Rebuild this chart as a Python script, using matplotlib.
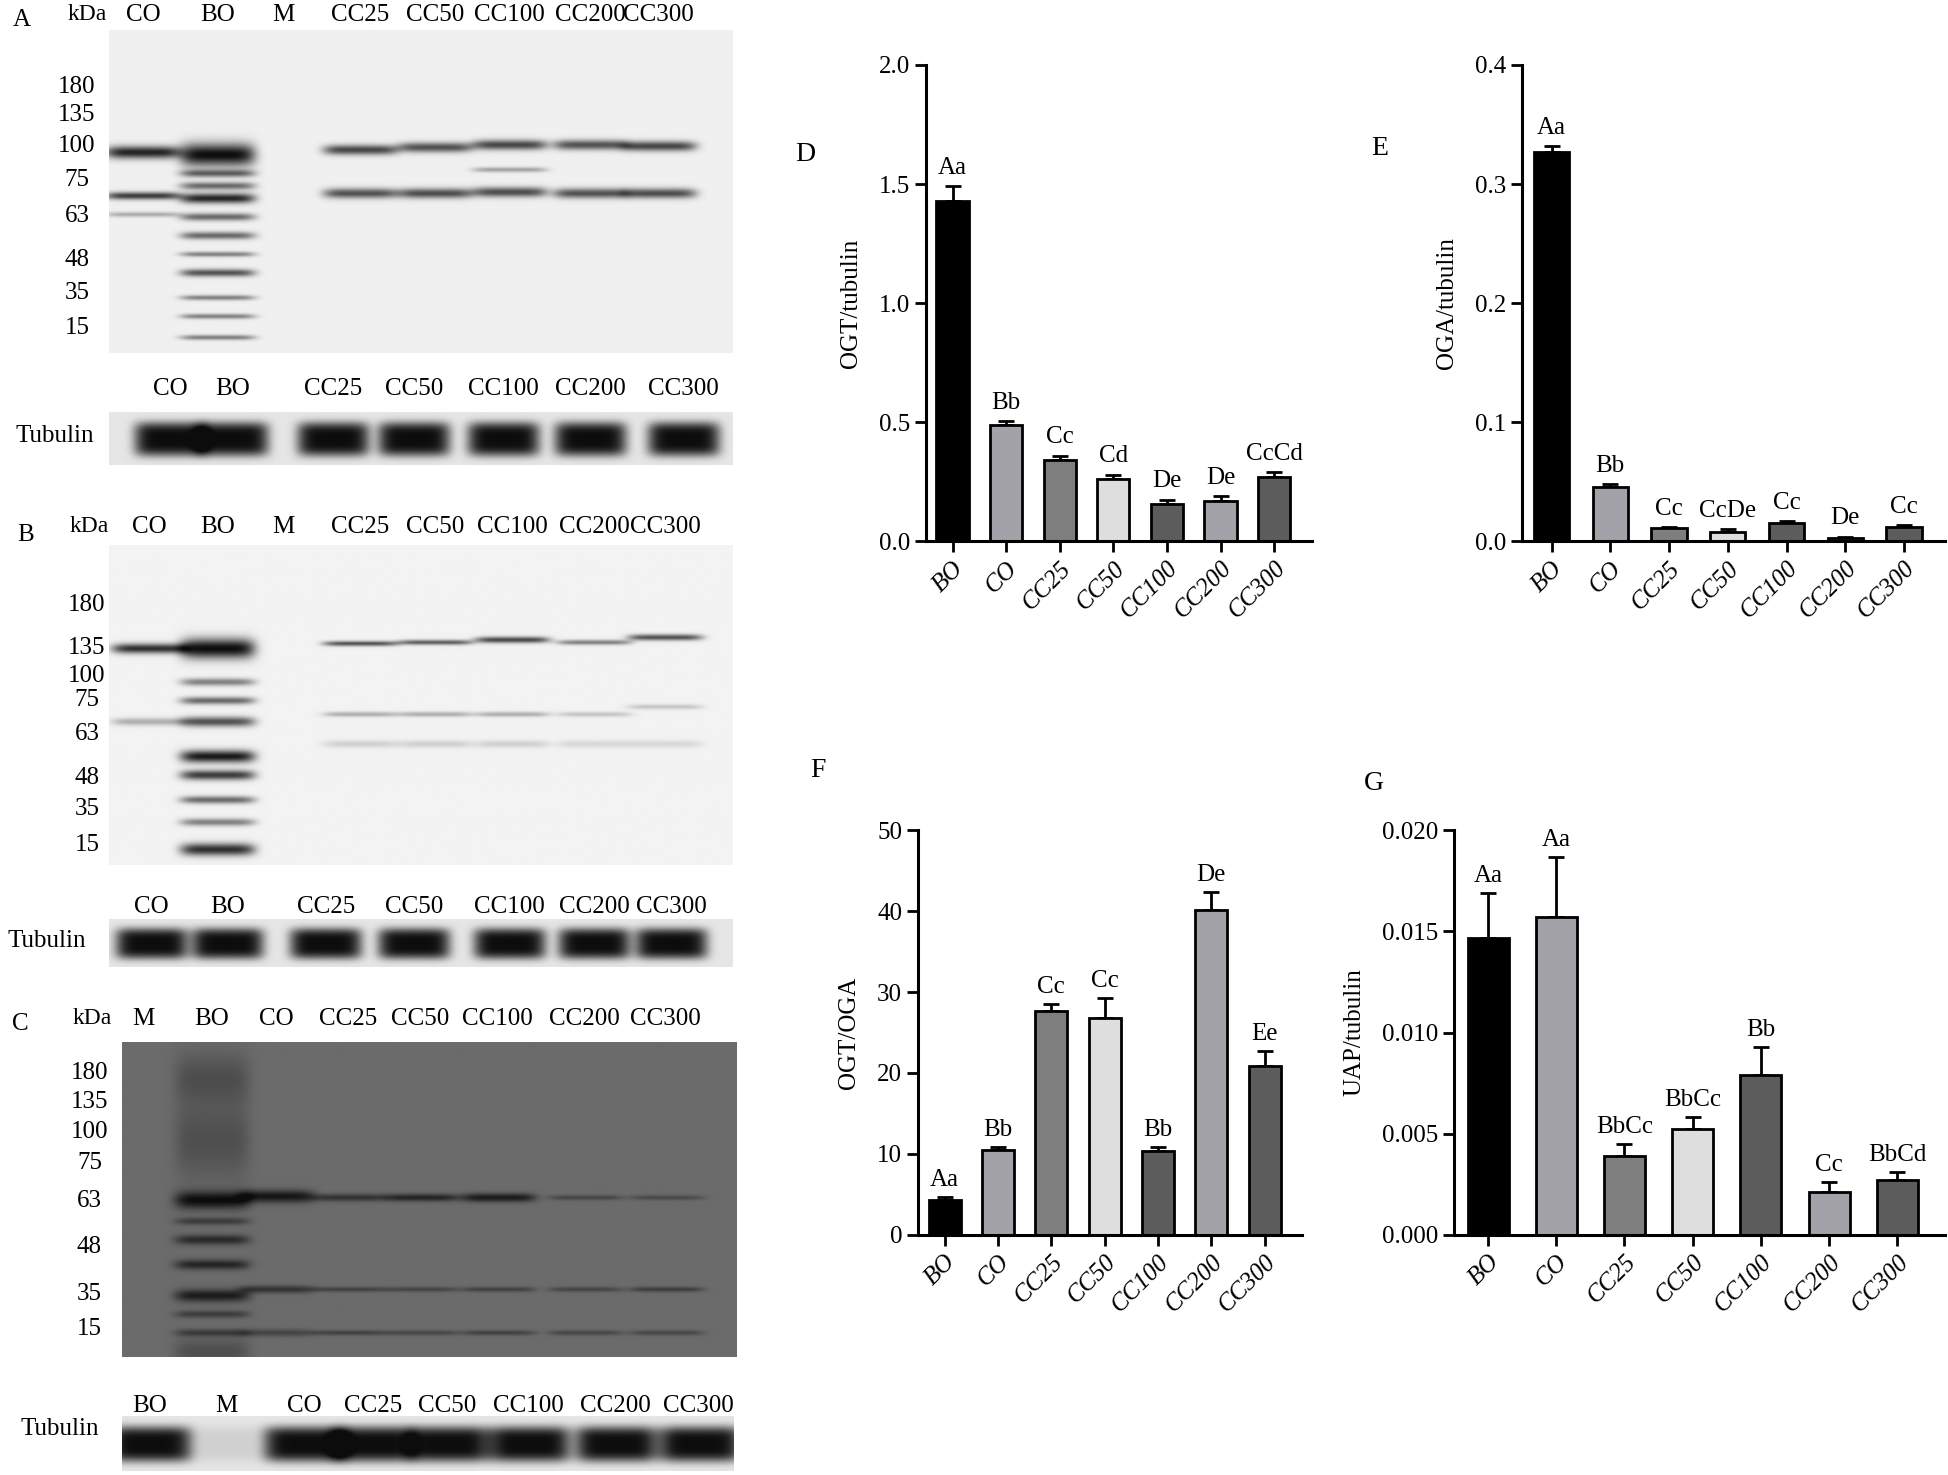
import numpy as np
import matplotlib
matplotlib.use("Agg")
import matplotlib.pyplot as plt

plt.rcParams["font.family"] = "Liberation Serif"

groups = ["BO", "CO", "CC25", "CC50", "CC100", "CC200", "CC300"]
bar_colors = ["#000000", "#a2a2a8", "#7e7e7e", "#dedede", "#5c5c5c", "#a2a2a8", "#5c5c5c"]

ogt = [1.43, 0.49, 0.34, 0.26, 0.155, 0.17, 0.27]
ogt_err = [0.06, 0.015, 0.02, 0.02, 0.02, 0.02, 0.02]
ogt_lab = ["Aa", "Bb", "Cc", "Cd", "De", "De", "CcCd"]

oga = [0.327, 0.046, 0.011, 0.008, 0.015, 0.003, 0.012]
oga_err = [0.005, 0.002, 0.001, 0.002, 0.002, 0.001, 0.002]
oga_lab = ["Aa", "Bb", "Cc", "CcDe", "Cc", "De", "Cc"]

ratio = [4.3, 10.5, 27.6, 26.8, 10.4, 40.1, 20.8]
ratio_err = [0.4, 0.3, 0.9, 2.5, 0.4, 2.3, 1.9]
ratio_lab = ["Aa", "Bb", "Cc", "Cc", "Bb", "De", "Ee"]

uap = [0.0147, 0.0157, 0.0039, 0.0052, 0.0079, 0.0021, 0.0027]
uap_err = [0.0022, 0.003, 0.0006, 0.0006, 0.0014, 0.0005, 0.0004]
uap_lab = ["Aa", "Aa", "BbCc", "BbCc", "Bb", "Cc", "BbCd"]

# blot lanes and bands (pixel rows in the reference frame, relative intensity, width)
kda = ["180", "135", "100", "75", "63", "48", "35", "15"]
lanesA = ["CO", "BO", "M", "CC25", "CC50", "CC100", "CC200", "CC300"]
lanesA_x = [115, 175, 228, 290, 350, 410, 475, 530]
bandsA = [[(123, .9, 5), (158, .8, 3), (173, .3, 2)],
          [(125, 1, 9), (140, .6, 3), (150, .6, 3), (160, .9, 4), (175, .6, 3), (190, .6, 3),
           (205, .5, 2), (220, .7, 3), (240, .5, 2), (255, .5, 2), (272, .5, 2)],
          [], [(121, .75, 4), (156, .7, 4)], [(119, .7, 4), (156, .72, 4)],
          [(117, .75, 4), (137, .35, 2), (155, .72, 4)], [(117, .7, 4), (156, .7, 4)],
          [(118, .75, 4), (156, .72, 4)]]
kdaA_y = [70, 93, 118, 145, 174, 210, 236, 265]
tubA = ["CO", "BO", "CC25", "CC50", "CC100", "CC200", "CC300"]
tubA_x = [137, 187, 268, 333, 405, 475, 550]

lanesB = ["CO", "BO", "M", "CC25", "CC50", "CC100", "CC200", "CC300"]
lanesB_x = [120, 175, 228, 290, 350, 412, 478, 535]
bandsB = [[(523, .85, 4), (582, .3, 3)],
          [(523, 1, 8), (550, .5, 3), (565, .6, 3), (582, .7, 4), (610, .95, 5), (625, .8, 4),
           (645, .6, 3), (663, .5, 3), (685, .85, 5)],
          [], [(519, .7, 2), (576, .3, 2), (600, .15, 3)], [(518, .65, 2), (576, .3, 2), (600, .15, 3)],
          [(516, .75, 2.5), (576, .3, 2), (600, .15, 3)], [(518, .5, 2), (576, .2, 2), (600, .12, 3)],
          [(514, .7, 2.5), (570, .2, 2), (600, .12, 3)]]
kdaB_y = [488, 523, 545, 565, 592, 628, 653, 682]
tubB = ["CO", "BO", "CC25", "CC50", "CC100", "CC200", "CC300"]
tubB_x = [122, 183, 262, 333, 410, 478, 540]

lanesC = ["M", "BO", "CO", "CC25", "CC50", "CC100", "CC200", "CC300"]
lanesC_x = [115, 170, 222, 280, 338, 400, 470, 535]
bandsC = [[],
          [(870, .3, 20), (968, 1, 7), (985, .5, 3), (1000, .7, 4), (1020, .75, 4), (1045, .85, 5),
           (1060, .5, 3), (1075, .5, 3), (1090, .3, 10), (920, .3, 30)],
          [(965, .9, 5), (1040, .6, 3), (1075, .4, 3)],
          [(966, .6, 3), (1040, .45, 2), (1075, .45, 2)], [(966, .75, 3), (1040, .4, 2), (1075, .4, 2)],
          [(966, .85, 3.5), (1040, .45, 2), (1075, .45, 2)], [(966, .4, 2), (1040, .4, 2), (1075, .4, 2)],
          [(966, .35, 2), (1040, .5, 2), (1075, .4, 2)]]
kdaC_y = [866, 889, 913, 938, 969, 1006, 1044, 1072]
tubC = ["BO", "M", "CO", "CC25", "CC50", "CC100", "CC200", "CC300"]
tubC_x = [120, 182, 245, 300, 360, 425, 495, 562]
tubC_int = [1, .1, 1, 1, 1, 1, 1, 1]

W, H = 1568, 1190
fig = plt.figure(figsize=(19.49, 14.75), dpi=100)
pix = fig.add_axes([0, 0, 1, 1])
pix.set_xlim(0, W)
pix.set_ylim(H, 0)
pix.axis("off")


def blot(x0, x1, y0, y1, lane_x, bands, bg, lane_w=30):
    ys = np.arange(y0, y1)
    xs = np.arange(x0, x1)
    img = np.zeros((len(ys), len(xs)))
    for lx, bl in zip(lane_x, bands):
        prof_x = np.exp(-((xs - lx) / lane_w) ** 6)
        for (by, inten, bw) in bl:
            prof_y = np.exp(-((ys - by) / bw) ** 2)
            img += inten * np.outer(prof_y, prof_x)
    img = np.clip(img, 0, 1)
    val = bg * (1 - img) + 0.05 * img
    pix.imshow(val, cmap="gray", vmin=0, vmax=1, extent=(x0, x1, y1, y0),
               aspect="auto", interpolation="bilinear", zorder=1)


def tubulin(x0, x1, y0, y1, lane_x, inten, lane_w=29):
    ys = np.arange(y0, y1)
    xs = np.arange(x0, x1)
    img = np.zeros((len(ys), len(xs)))
    yc = (y0 + y1) / 2
    for lx, it in zip(lane_x, inten):
        img += it * np.outer(np.exp(-((ys - yc) / ((y1 - y0) * 0.32)) ** 4),
                             np.exp(-((xs - lx) / lane_w) ** 6))
    img = np.clip(img, 0, 1)
    val = 0.9 * (1 - img) + 0.05 * img
    pix.imshow(val, cmap="gray", vmin=0, vmax=1, extent=(x0, x1, y1, y0),
               aspect="auto", interpolation="bilinear", zorder=1)


fs = 18
# panel A
blot(88, 590, 25, 285, lanesA_x, bandsA, 0.94)
for n, x in zip(lanesA, lanesA_x):
    pix.text(x, 12, n, ha="center", va="center", fontsize=fs)
pix.text(70, 12, "kDa", ha="center", va="center", fontsize=fs - 1)
for k, y in zip(kda, kdaA_y):
    pix.text(62, y, k, ha="center", va="center", fontsize=fs)
tubulin(88, 590, 333, 375, tubA_x, [1] * 7)
for n, x in zip(tubA, tubA_x):
    pix.text(x, 314, n, ha="center", va="center", fontsize=fs)
pix.text(44, 352, "Tubulin", ha="center", va="center", fontsize=fs)
pix.text(10, 16, "A", ha="left", va="center", fontsize=fs)

# panel B
blot(88, 590, 440, 698, lanesB_x, bandsB, 0.95)
for n, x in zip(lanesB, lanesB_x):
    pix.text(x, 425, n, ha="center", va="center", fontsize=fs)
pix.text(72, 425, "kDa", ha="center", va="center", fontsize=fs - 1)
for k, y in zip(kda, kdaB_y):
    pix.text(70, y, k, ha="center", va="center", fontsize=fs)
tubulin(88, 590, 742, 780, tubB_x, [1] * 7)
for n, x in zip(tubB, tubB_x):
    pix.text(x, 732, n, ha="center", va="center", fontsize=fs)
pix.text(38, 759, "Tubulin", ha="center", va="center", fontsize=fs)
pix.text(14, 432, "B", ha="left", va="center", fontsize=fs)

# panel C
blot(98, 592, 841, 1095, lanesC_x, bandsC, 0.42)
for n, x in zip(lanesC, lanesC_x):
    pix.text(x, 822, n, ha="center", va="center", fontsize=fs)
pix.text(74, 822, "kDa", ha="center", va="center", fontsize=fs - 1)
for k, y in zip(kda, kdaC_y):
    pix.text(72, y, k, ha="center", va="center", fontsize=fs)
tubulin(98, 590, 1143, 1187, tubC_x, tubC_int, lane_w=33)
for n, x in zip(tubC, tubC_x):
    pix.text(x, 1134, n, ha="center", va="center", fontsize=fs)
pix.text(48, 1153, "Tubulin", ha="center", va="center", fontsize=fs)
pix.text(10, 826, "C", ha="left", va="center", fontsize=fs)

# panel letters for bar charts
pix.text(640, 125, "D", ha="left", va="center", fontsize=fs + 2)
pix.text(1103, 120, "E", ha="left", va="center", fontsize=fs + 2)
pix.text(652, 622, "F", ha="left", va="center", fontsize=fs + 2)
pix.text(1097, 632, "G", ha="left", va="center", fontsize=fs + 2)


def bars(rect, vals, errs, labs, ylim, ticks, ticklabs, ylabel):
    ax = fig.add_axes(rect)
    x = np.arange(len(groups))
    ax.bar(x, vals, width=0.6, color=bar_colors, edgecolor="black", linewidth=2, zorder=2)
    ax.errorbar(x, vals, yerr=[np.zeros(len(vals)), errs], fmt="none", ecolor="black",
                elinewidth=2, capsize=6, capthick=2, zorder=1)
    off = (ylim[1] - ylim[0]) * 0.015
    for xi, v, e, l in zip(x, vals, errs, labs):
        ax.text(xi, v + e + off, l, ha="center", va="bottom", fontsize=fs)
    ax.set_xlim(-0.5, len(groups) - 0.3)
    ax.set_ylim(*ylim)
    ax.set_yticks(ticks)
    ax.set_yticklabels(ticklabs, fontsize=fs)
    ax.set_xticks(x)
    ax.set_xticklabels(groups, rotation=45, ha="right", rotation_mode="anchor",
                       fontsize=fs, style="italic")
    ax.set_ylabel(ylabel, fontsize=fs, labelpad=12)
    for s in ["top", "right"]:
        ax.spines[s].set_visible(False)
    for s in ["left", "bottom"]:
        ax.spines[s].set_linewidth(2.2)
    ax.tick_params(width=2, length=8, direction="out")
    return ax


bars([0.475, 0.633, 0.198, 0.323], ogt, ogt_err, ogt_lab, (0, 2.0),
     [0, 0.5, 1.0, 1.5, 2.0], ["0.0", "0.5", "1.0", "1.5", "2.0"], "OGT/tubulin")
bars([0.781, 0.633, 0.217, 0.323], oga, oga_err, oga_lab, (0, 0.4),
     [0, 0.1, 0.2, 0.3, 0.4], ["0.0", "0.1", "0.2", "0.3", "0.4"], "OGA/tubulin")
bars([0.471, 0.163, 0.197, 0.274], ratio, ratio_err, ratio_lab, (0, 50),
     [0, 10, 20, 30, 40, 50], ["0", "10", "20", "30", "40", "50"], "OGT/OGA")
bars([0.746, 0.163, 0.252, 0.274], uap, uap_err, uap_lab, (0, 0.020),
     [0, 0.005, 0.010, 0.015, 0.020], ["0.000", "0.005", "0.010", "0.015", "0.020"], "UAP/tubulin")

fig.savefig("out.png", dpi=100)
